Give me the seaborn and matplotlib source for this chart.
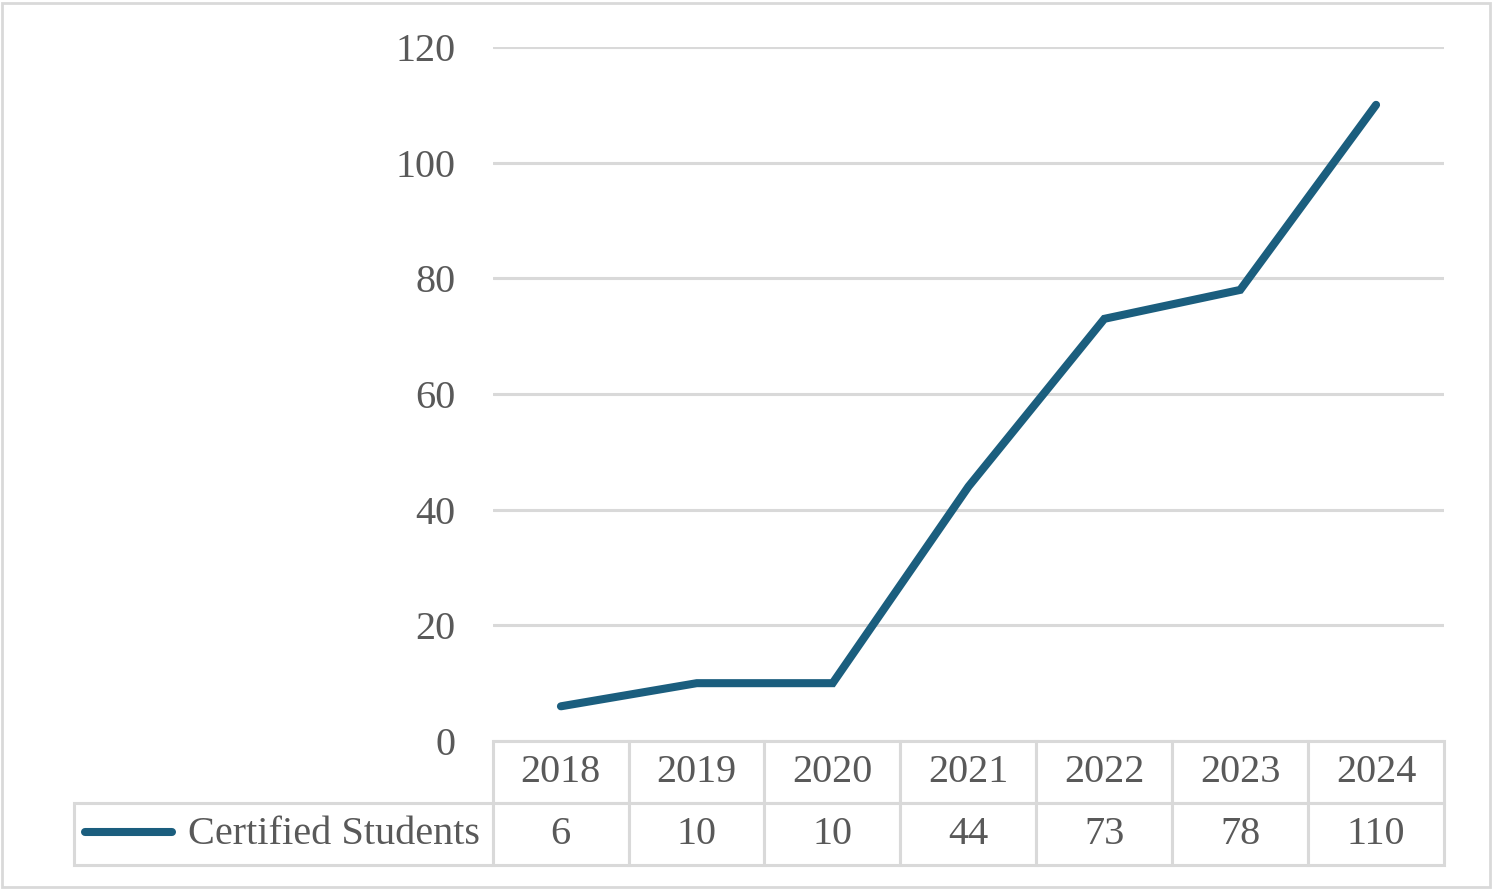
import matplotlib
matplotlib.use("Agg")
import matplotlib.pyplot as plt
from matplotlib.patches import Rectangle
from matplotlib.table import Table
import seaborn as sns
import pandas as pd

years = ["2018", "2019", "2020", "2021", "2022", "2023", "2024"]
students = [6, 10, 10, 44, 73, 78, 110]
series_name = "Certified Students"
yticks = [0, 20, 40, 60, 80, 100, 120]

LINE = "#1b5e7e"
GRID = "#d9d9d9"
TXT = "#595959"
FS = 29

sns.set_style("white")
plt.rcParams["font.family"] = ["Liberation Serif", "DejaVu Serif"]

df = pd.DataFrame({"year": years, "students": students})

fig = plt.figure(figsize=(14.93, 8.90), dpi=100)
ax = fig.add_axes([493 / 1493, 1 - 741 / 890, (1444 - 493) / 1493, (741 - 47) / 890])

sns.lineplot(data=df, x="year", y="students", ax=ax, color=LINE, linewidth=5.8,
             solid_capstyle="round", solid_joinstyle="miter", zorder=3)

ax.set_xlim(-0.5, len(years) - 0.5)
ax.set_ylim(0, 120)
ax.set_yticks(yticks)
ax.set_yticklabels([str(v) for v in yticks])
for lbl in ax.get_yticklabels():
    lbl.set_verticalalignment("center_baseline")
ax.yaxis.grid(True, color=GRID, linewidth=2.2)
ax.set_axisbelow(True)
for s in ax.spines.values():
    s.set_visible(False)
ax.tick_params(axis="y", length=0, pad=27, labelsize=FS, labelcolor=TXT)
ax.tick_params(axis="x", length=0, labelbottom=False)
ax.set_xlabel("")
ax.set_ylabel("")

# data table under the plot
axw = 1444 - 493
axh = 741 - 47
tbl = Table(ax, bbox=[(74 - 493) / axw, -(865 - 741) / axh, (1444 - 74) / axw, (865 - 741) / axh])
for i, y in enumerate(years):
    tbl.add_cell(0, i + 1, width=136, height=62, text=y, loc="center")
lab = tbl.add_cell(1, 0, width=419, height=62, text=series_name, loc="right")
lab.PAD = 0.03
for i, v in enumerate(students):
    tbl.add_cell(1, i + 1, width=136, height=62, text=str(v), loc="center")
tbl.auto_set_font_size(False)
tbl.set_fontsize(FS)
for cell in tbl.get_celld().values():
    cell.set_edgecolor(GRID)
    cell.set_linewidth(2.2)
    cell.get_text().set_color(TXT)
ax.add_table(tbl)

# legend key inside the row label cell
ax.plot([(85 - 493) / axw, (172 - 493) / axw], [-(832 - 741) / axh] * 2,
        transform=ax.transAxes, clip_on=False, color=LINE, linewidth=5.8,
        solid_capstyle="round")

# chart border
fig.patches.append(Rectangle((2 / 1493, 3 / 890), 1488 / 1493, 884 / 890,
                             transform=fig.transFigure, fill=False,
                             edgecolor=GRID, linewidth=2))

fig.savefig("out.png", dpi=100)
